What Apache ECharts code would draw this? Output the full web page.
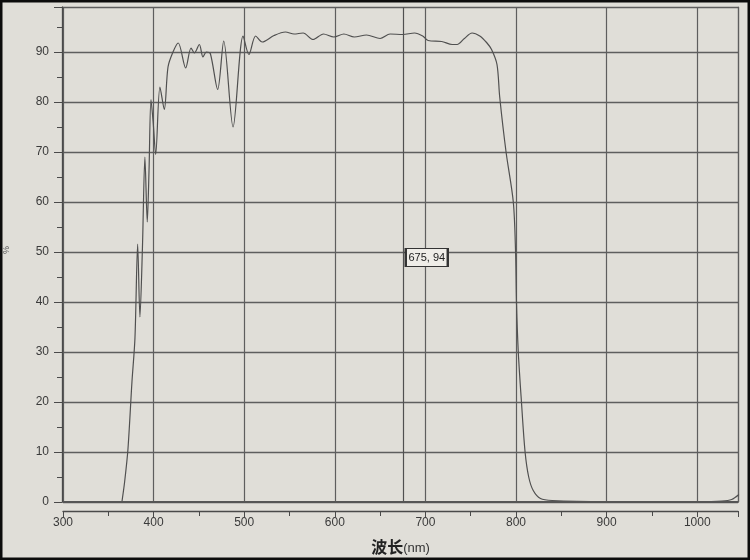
<!DOCTYPE html>
<html>
<head>
<meta charset="utf-8">
<script src="https://cdn.jsdelivr.net/npm/echarts@6/dist/echarts.min.js"></script>
<style>
html,body{margin:0;padding:0;background:#111;}
#c{width:750px;height:560px;}
</style>
</head>
<body>
<div id="c"></div>
<script>
// Wavelength (nm) and transmittance (%)
const wavelength = [365,368,371.7,376.1,379.4,382.4,384.9,387.7,390.4,393,394.9,397.1,399.5,402.3,407,411.8,415.9,421.4,427.2,435.4,441.3,445,450.5,454.5,458.2,462.6,470.7,477.4,487.7,498.8,505.2,512.6,519.9,532.9,545.5,555,565,576,587.5,599,610,621.5,635,650,661,675,688,697,703,718,729.5,735,743,751.5,760,767.5,773,779,782,789,797,799.5,800.5,802.5,806,810,814,819,827,840,900,1000,1027,1038,1046];
const transmittance = [0,4,10.6,24,32.7,51.6,37,51,69,56,66,80.5,76,69.5,83,78.5,87,90,91.8,86.8,90.8,89.8,91.5,89,90,89.7,82.5,92.2,75,93.2,89.5,93.2,92,93.3,94,93.6,93.8,92.5,93.6,93,93.6,93,93.4,92.7,93.6,93.5,93.8,93.2,92.3,92.1,91.5,91.5,92.7,93.8,93.2,91.9,90.5,87.5,81,70,60,50,40,30,20,10,5,2.3,0.7,0.3,0.1,0.1,0.2,0.5,1.5];
const cursorX = 675;
const cursorLabel = '675, 94';
const xTicks = [300,400,500,600,700,800,900,1000];
const yTicks = [0,10,20,30,40,50,60,70,80,90];
const xTitle = '波长';
const xUnit = '(nm)';

const chart = echarts.init(document.getElementById('c'));
const gridColor = '#5e5e5e';
const font = "'Liberation Sans Narrow','Liberation Sans',Arial,sans-serif";
chart.setOption({
  backgroundColor: '#e0ded8',
  animation: false,
  grid: {left: 63, right: 12, top: 7, bottom: 56.5},
  xAxis: [{
    type: 'value', min: 300, max: 1045, interval: 100, offset: 9,
    axisLine: {show: true, onZero: false, lineStyle: {color: '#4a4a4a', width: 1.3}},
    axisTick: {show: true, inside: false, length: 6, lineStyle: {color: '#4a4a4a'}},
    minorTick: {show: true, splitNumber: 2, length: 5, lineStyle: {color: '#4a4a4a'}},
    axisLabel: {color: '#3a3a3a', fontSize: 12, fontFamily: font, margin: 6, showMaxLabel: false,
      formatter: v => xTicks.includes(v) ? String(v) : ''},
    splitLine: {show: true, lineStyle: {color: gridColor, width: 1.2}},
    name: '{a|' + xTitle + '}{b|' + xUnit + '}', nameLocation: 'middle', nameGap: 27,
    nameTextStyle: {rich: {a: {fontSize: 16, fontWeight: 'bold', color: '#222', fontFamily: "'Noto Sans CJK SC',sans-serif"}, b: {fontSize: 13, color: '#333', fontFamily: font, padding: [4,0,0,0]}}}
  }, {
    type: 'value', position: 'top', min: 300, max: 1045,
    axisLine: {show: true, lineStyle: {color: gridColor, width: 1.2}},
    axisTick: {show: false}, axisLabel: {show: false}, splitLine: {show: false}
  }],
  yAxis: [{
    type: 'value', min: 0, max: 99, interval: 10, offset: 1,
    axisLine: {show: true, lineStyle: {color: '#4a4a4a', width: 1.3}},
    axisTick: {show: true, length: 8, lineStyle: {color: '#4a4a4a'}},
    minorTick: {show: true, splitNumber: 2, length: 5, lineStyle: {color: '#4a4a4a'}},
    axisLabel: {color: '#3a3a3a', fontSize: 12, fontFamily: font, margin: 13, showMaxLabel: false,
      formatter: v => yTicks.includes(v) ? String(v) : ''},
    splitLine: {show: true, lineStyle: {color: gridColor, width: 1.3}}
  }, {
    type: 'value', position: 'right', min: 0, max: 99,
    axisLine: {show: true, lineStyle: {color: gridColor, width: 1.2}},
    axisTick: {show: false}, axisLabel: {show: false}, splitLine: {show: false}
  }],
  series: [{
    type: 'line',
    data: wavelength.map((w, i) => [w, transmittance[i]]),
    showSymbol: false, smooth: 0.3,
    lineStyle: {color: '#505050', width: 1.2},
    markLine: {
      silent: true, symbol: 'none', label: {show: false},
      lineStyle: {color: '#505050', width: 1.2, type: 'solid'},
      data: [{xAxis: cursorX}, {yAxis: 0, lineStyle: {width: 2.2, color: '#555'}}]
    },
    markPoint: {
      silent: true,
      data: [{coord: [cursorX, 48.9], value: cursorLabel}],
      symbol: 'rect', symbolSize: [42, 18], symbolOffset: [24, 0],
      itemStyle: {color: '#efede8', borderColor: '#333', borderWidth: 1.6},
      label: {show: true, formatter: cursorLabel, color: '#222', fontSize: 11, fontFamily: font}
    }
  }],
  graphic: [
    {type: 'text', left: 2, top: 246, rotation: Math.PI / 2, style: {text: '%', fill: '#555', fontSize: 9}},
    {type: 'rect', silent: true, z: 100, shape: {x: 0, y: 0, width: 750, height: 560}, style: {fill: 'none', stroke: '#0c0c0c', lineWidth: 5}}
  ]
});
</script>
</body>
</html>
